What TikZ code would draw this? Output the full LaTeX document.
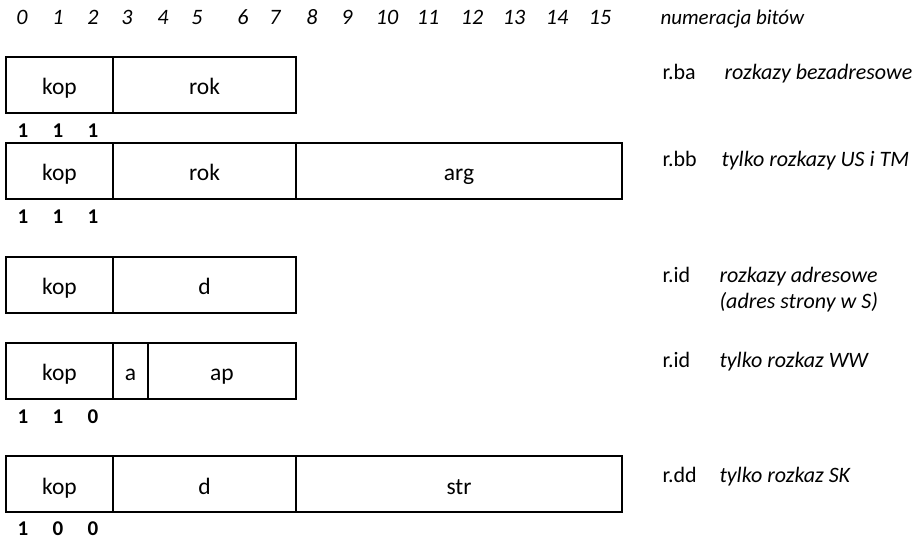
\documentclass[tikz,border=0pt]{standalone}
\usepackage{fontspec}
\setmainfont{Carlito}
\usetikzlibrary{positioning}

\tikzset{
  field/.style={draw, line width=1.8pt, outer sep=0pt, inner sep=0pt,
    minimum height=56pt, text height=20pt, text depth=0pt,
    font=\fontsize{23.5}{27}\selectfont},
  bitnr/.style={anchor=base, font=\itshape\fontsize{22}{26}\selectfont},
  bitval/.style={anchor=base, font=\bfseries\fontsize{21}{25}\selectfont},
  rname/.style={anchor=base west, font=\fontsize{22}{26}\selectfont},
  rdesc/.style={anchor=base west, font=\itshape\fontsize{22}{26}\selectfont}
}

\begin{document}
\begin{tikzpicture}[x=1pt, y=-1pt]
\useasboundingbox (0,0) rectangle (914,540);

% bit numbers
\node[bitnr] (b0) at (22,25) {0};
\node[bitnr] (b1) at (58,25) {1};
\node[bitnr] (b2) at (93,25) {2};
\node[bitnr] (b3) at (127,25) {3};
\node[bitnr] (b4) at (163,25) {4};
\node[bitnr] (b5) at (197,25) {5};
\node[bitnr] (b6) at (243,25) {6};
\node[bitnr] (b7) at (275,25) {7};
\node[bitnr] (b8) at (312,25) {8};
\node[bitnr] (b9) at (347,25) {9};
\node[bitnr] (b10) at (387,25) {10};
\node[bitnr] (b11) at (428,25) {11};
\node[bitnr] (b12) at (472,25) {12};
\node[bitnr] (b13) at (514,25) {13};
\node[bitnr] (b14) at (557,25) {14};
\node[bitnr] (b15) at (600,25) {15};
\node[rdesc, font=\itshape\fontsize{21}{26}\selectfont] (numer) at (657,25) {numeracja bitów};

% r.ba
\node[field, anchor=north west, minimum width=107pt] (kop1) at (6,57) {kop};
\node[field, right=0pt of kop1, minimum width=183pt] (rok1) {rok};
\node[bitval] (v1a) at (23,138) {1};
\node[bitval] (v1b) at (58,138) {1};
\node[bitval] (v1c) at (93,138) {1};
\node[rname] (nazwa1) at (659,80) {r.ba};
\node[rdesc] (opis1) at (721,80) {rozkazy bezadresowe};

% r.bb
\node[field, anchor=north west, minimum width=107pt] (kop2) at (6,143) {kop};
\node[field, right=0pt of kop2, minimum width=183pt] (rok2) {rok};
\node[field, right=0pt of rok2, minimum width=326pt] (arg2) {arg};
\node[bitval] (v2a) at (23,224) {1};
\node[bitval] (v2b) at (58,224) {1};
\node[bitval] (v2c) at (93,224) {1};
\node[rname] (nazwa2) at (659,167) {r.bb};
\node[rdesc] (opis2) at (718,167) {tylko rozkazy US i TM};

% r.id (adresowe)
\node[field, anchor=north west, minimum width=107pt] (kop3) at (6,257) {kop};
\node[field, right=0pt of kop3, minimum width=183pt] (d3) {d};
\node[rname] (nazwa3) at (659,283) {r.id};
\node[rdesc] (opis3) at (716,283) {rozkazy adresowe};
\node[rdesc] (opis3b) at (716,309) {(adres strony w S)};

% r.id (WW)
\node[field, anchor=north west, minimum width=107pt] (kop4) at (6,343) {kop};
\node[field, right=0pt of kop4, minimum width=35pt] (a4) {a};
\node[field, right=0pt of a4, minimum width=148pt] (ap4) {ap};
\node[bitval] (v4a) at (23,423) {1};
\node[bitval] (v4b) at (58,423) {1};
\node[bitval] (v4c) at (93,423) {0};
\node[rname] (nazwa4) at (659,368) {r.id};
\node[rdesc] (opis4) at (716,368) {tylko rozkaz WW};

% r.dd
\node[field, anchor=north west, minimum width=107pt] (kop5) at (6,456) {kop};
\node[field, right=0pt of kop5, minimum width=183pt] (d5) {d};
\node[field, right=0pt of d5, minimum width=326pt] (str5) {str};
\node[bitval] (v5a) at (23,535) {1};
\node[bitval] (v5b) at (58,535) {0};
\node[bitval] (v5c) at (93,535) {0};
\node[rname] (nazwa5) at (659,482) {r.dd};
\node[rdesc] (opis5) at (716,482) {tylko rozkaz SK};

\end{tikzpicture}
\end{document}
